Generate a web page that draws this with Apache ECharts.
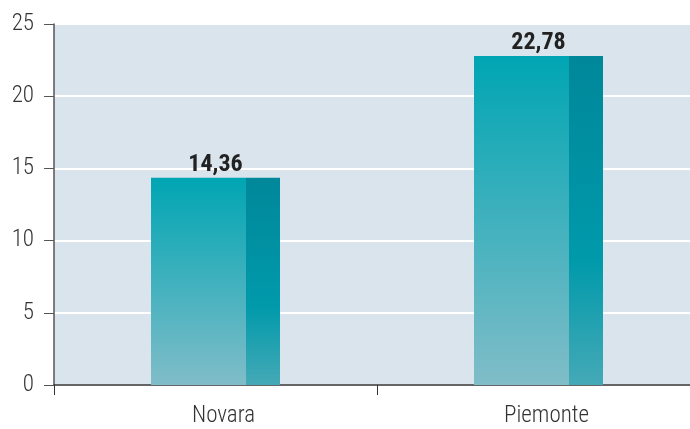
<!DOCTYPE html>
<html>
<head>
<meta charset="utf-8">
<script src="https://cdn.jsdelivr.net/npm/echarts@6/dist/echarts.min.js"></script>
<style>
  html, body { margin: 0; padding: 0; background: #fff; }
  #chart { width: 690px; height: 429px; }
</style>
</head>
<body>
<div id="chart"></div>
<script>
// Dati
const categories = ["Novara", "Piemonte"];
const values = [14.36, 22.78];
const yTicks = { min: 0, max: 25, interval: 5 };

const fontFam = "'Roboto Condensed', 'Liberation Sans Narrow', sans-serif";

const chart = echarts.init(document.getElementById("chart"));

// Faccia frontale e lato del "cilindro" come due serie affiancate
const frontColor = new echarts.graphic.LinearGradient(0, 0, 0, 1, [
  { offset: 0, color: "#00a5b3" },
  { offset: 1, color: "#80bdc8" },
]);
const sideColor = new echarts.graphic.LinearGradient(0, 0, 0, 1, [
  { offset: 0, color: "#00879a" },
  { offset: 0.62, color: "#009aab" },
  { offset: 1, color: "#45a9b6" },
]);

chart.setOption({
  animation: false,
  grid: {
    left: 54,
    top: 24,
    bottom: 44,
    width: 646,
    outerBoundsMode: "none",
    show: true,
    backgroundColor: "#d9e4ec",
    borderWidth: 0,
  },
  xAxis: {
    type: "category",
    data: categories,
    axisLine: { lineStyle: { color: "#333", width: 1.5 } },
    axisTick: { show: true, length: 10, inside: false, lineStyle: { color: "#333" } },
    axisLabel: {
      color: "#333",
      fontSize: 23,
      fontWeight: 300,
      fontFamily: fontFam,
      margin: 20,
      padding: [0, 0, 0, 16],
    },
  },
  yAxis: {
    type: "value",
    min: yTicks.min,
    max: yTicks.max,
    interval: yTicks.interval,
    axisLine: { show: true, lineStyle: { color: "#555", width: 1.5 } },
    axisTick: { show: true, length: 10, lineStyle: { color: "#555" } },
    axisLabel: { color: "#333", fontSize: 23, fontWeight: 300, fontFamily: fontFam, margin: 20 },
    splitLine: { lineStyle: { color: "#ffffff", width: 2 } },
  },
  series: [
    {
      name: "fronte",
      type: "bar",
      data: values,
      barWidth: 95,
      barGap: "0%",
      itemStyle: { color: frontColor },
      label: {
        show: true,
        position: "top",
        offset: [17, 0],
        distance: 1,
        color: "#222",
        fontSize: 24,
        fontWeight: "bold",
        fontFamily: fontFam,
        formatter: (p) => String(p.value).replace(".", ","),
      },
    },
    {
      name: "lato",
      type: "bar",
      data: values,
      barWidth: 34,
      barGap: "0%",
      itemStyle: { color: sideColor },
    },
  ],
});
</script>
</body>
</html>
